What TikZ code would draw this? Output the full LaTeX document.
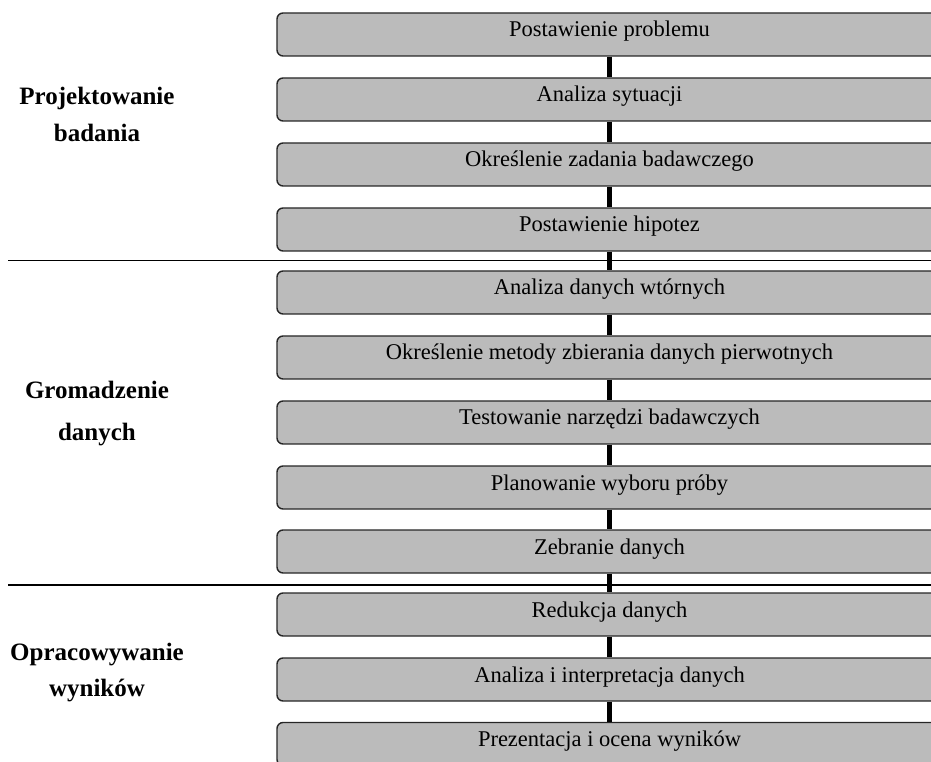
\documentclass[tikz,border=0pt]{standalone}
\usepackage{fontspec}
\setmainfont{Liberation Serif}
\definecolor{boxgray}{HTML}{BBBBBB}

\begin{document}
\begin{tikzpicture}[x=1pt, y=1pt,
    etap/.style ={rectangle, rounded corners=6pt, draw=black!85, line width=1.4pt,
      fill=boxgray, minimum width=665pt, minimum height=43pt,
      text height=15pt, text depth=10pt, font=\fontsize{22.5}{27}\selectfont},
    faza/.style ={anchor=base, font=\fontsize{25}{30}\selectfont\bfseries},
    krok/.style ={line width=4.5pt},
    granica/.style ={line width=1.6pt}]
   \useasboundingbox (0,0) rectangle (931,761);
   \clip (0,0) rectangle (931,761);
   % etapy badania
   \node[etap] (E1) at (609.5,726.5) {Postawienie problemu};
   \node[etap] (E2) at (609.5,661.5) {Analiza sytuacji};
   \node[etap] (E3) at (609.5,596.5) {Określenie zadania badawczego};
   \node[etap] (E4) at (609.5,531.5) {Postawienie hipotez};
   \node[etap] (E5) at (609.5,468.5) {Analiza danych wtórnych};
   \node[etap] (E6) at (609.5,403.5) {Określenie metody zbierania danych pierwotnych};
   \node[etap] (E7) at (609.5,338.5) {Testowanie narzędzi badawczych};
   \node[etap] (E8) at (609.5,273.5) {Planowanie wyboru próby};
   \node[etap] (E9) at (609.5,209.5) {Zebranie danych};
   \node[etap] (E10) at (609.5,146.5) {Redukcja danych};
   \node[etap] (E11) at (609.5,81.5) {Analiza i interpretacja danych};
   \node[etap] (E12) at (609.5,17) {Prezentacja i ocena wyników};
   \draw[krok] (E1) to (E2);
   \draw[krok] (E2) to (E3);
   \draw[krok] (E3) to (E4);
   \draw[krok] (E4) to (E5);
   \draw[krok] (E5) to (E6);
   \draw[krok] (E6) to (E7);
   \draw[krok] (E7) to (E8);
   \draw[krok] (E8) to (E9);
   \draw[krok] (E9) to (E10);
   \draw[krok] (E10) to (E11);
   \draw[krok] (E11) to (E12);
   % granice faz
   \draw[granica] (8,500.3) -- (931,500.3);
   \draw[granica] (8,176) -- (931,176);
   % fazy
   \node[faza] (Pa) at (97,656) {Projektowanie};
   \node[faza] (Pb) at (97,619.3) {badania};
   \node[faza] (Ga) at (97,362) {Gromadzenie};
   \node[faza] (Gb) at (97,320.3) {danych};
   \node[faza] (Oa) at (97,101) {Opracowywanie};
   \node[faza] (Ob) at (97,64.3) {wyników};
 \end{tikzpicture}
\end{document}
